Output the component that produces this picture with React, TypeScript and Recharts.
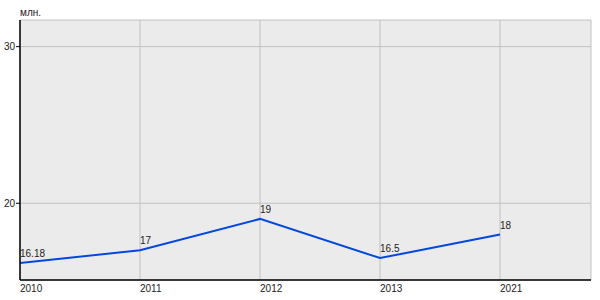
import React from 'react';
import { LineChart, Line, XAxis, YAxis, CartesianGrid, LabelList } from 'recharts';

const years = ['2010', '2011', '2012', '2013', '2021'];
const values = [16.18, 17, 19, 16.5, 18];
const yTicks = [20, 30];

const data = years.map((y, i) => ({ idx: i, year: y, value: values[i] }));

const XTick = (props: any) => {
  const { x, y, payload } = props;
  return (
    <text x={x} y={y} dy="0.71em" textAnchor="start" fontSize={10} fill="#222" fontFamily="Liberation Sans, Arial, sans-serif">
      {years[payload.value]}
    </text>
  );
};

const PointLabel = (props: any) => {
  const { x, y, value } = props;
  return (
    <text x={x} y={y - 6} textAnchor="start" fontSize={10} fill="#222" fontFamily="Liberation Sans, Arial, sans-serif">
      {value}
    </text>
  );
};

export default function App() {
  return (
    <div style={{ position: 'absolute', left: 0, top: 0, width: 600, height: 300 }}>
      <div style={{ position: 'absolute', left: 20, top: 7, fontSize: 10, fontFamily: 'Liberation Sans, Arial, sans-serif', color: '#222' }}>млн.</div>
      <LineChart width={600} height={300} data={data} margin={{ top: 20, right: 9, left: 0, bottom: 0 }}>
        <CartesianGrid fill="#ebebeb" stroke="#c2c2c2" strokeWidth={1} />
        <XAxis
          dataKey="idx"
          type="number"
          domain={[0, 4.758]}
          ticks={[0, 1, 2, 3, 4]}
          height={20}
          tickLine={false}
          tickSize={3}
          tickMargin={2}
          axisLine={{ stroke: '#000', strokeWidth: 1.5 }}
          tick={<XTick />}
          allowDataOverflow
        />
        <YAxis
          type="number"
          domain={[15.1, 31.7]}
          ticks={yTicks}
          width={20}
          tickSize={4}
          tickMargin={1}
          tickLine={{ stroke: '#000' }}
          axisLine={{ stroke: '#000', strokeWidth: 1.5 }}
          tick={{ fontSize: 10, fill: '#222', fontFamily: 'Liberation Sans, Arial, sans-serif' }}
          allowDataOverflow
        />
        <Line
          type="linear"
          dataKey="value"
          stroke="#0048e0"
          strokeWidth={2}
          dot={false}
          activeDot={false}
          isAnimationActive={false}
        >
          <LabelList dataKey="value" content={<PointLabel />} />
        </Line>
      </LineChart>
    </div>
  );
}
